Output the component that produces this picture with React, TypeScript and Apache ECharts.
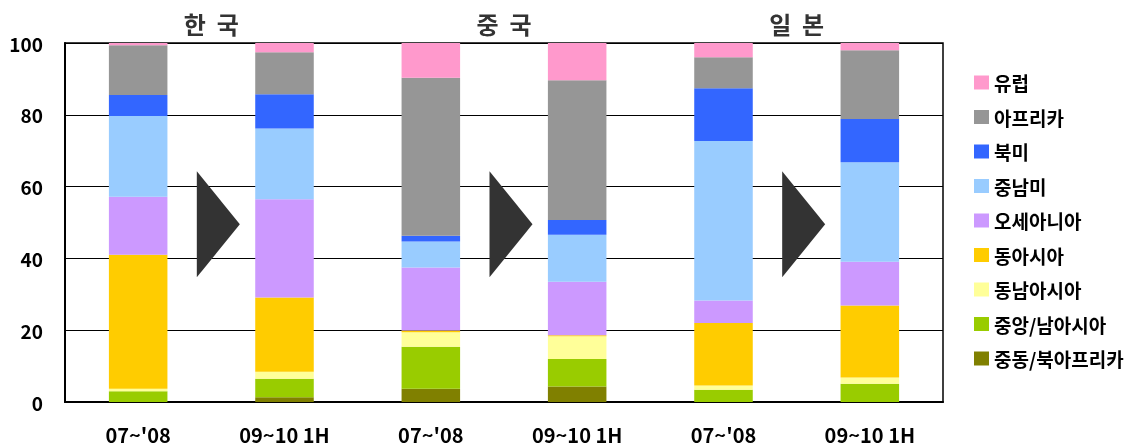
import React, { useEffect, useRef } from "react";
import * as echarts from "echarts";

const categories = ["07~'08", "09~10 1H", "07~'08", "09~10 1H", "07~'08", "09~10 1H"];
const groups = ["한 국", "중 국", "일 본"];
const yTicks = [0, 20, 40, 60, 80, 100];

const seriesNames = [
  "중동/북아프리카",
  "중앙/남아시아",
  "동남아시아",
  "동아시아",
  "오세아니아",
  "중남미",
  "북미",
  "아프리카",
  "유럽",
];
const seriesColors = [
  "#808000",
  "#99CC00",
  "#FFFF99",
  "#FFCC00",
  "#CC99FF",
  "#99CCFF",
  "#3366FF",
  "#969696",
  "#FF99CC",
];

const middleEastNorthAfrica = [0, 1.3, 3.7, 4.3, 0, 0];
const centralSouthAsia = [3.0, 5.2, 11.7, 7.7, 3.4, 5.1];
const southeastAsia = [0.7, 1.9, 4.0, 6.3, 1.2, 1.7];
const eastAsia = [37.3, 20.7, 0.5, 0.3, 17.4, 20.1];
const oceania = [16.2, 27.4, 17.6, 14.9, 6.3, 12.2];
const latinAmerica = [22.5, 19.7, 7.2, 13.1, 44.4, 27.7];
const northAmerica = [5.8, 9.5, 1.6, 4.1, 14.7, 12.0];
const africa = [13.9, 11.7, 44.0, 38.9, 8.6, 19.2];
const europe = [0.6, 2.6, 9.7, 10.4, 4.0, 2.0];

const seriesValues = [
  middleEastNorthAfrica,
  centralSouthAsia,
  southeastAsia,
  eastAsia,
  oceania,
  latinAmerica,
  northAmerica,
  africa,
  europe,
];

const arrowLevel = 49.5;

export default function App() {
  const ref = useRef<HTMLDivElement>(null);
  useEffect(() => {
    if (!ref.current) return;
    const chart = echarts.init(ref.current, undefined, { renderer: "svg" });
    const font = "'Noto Sans CJK KR', 'Noto Sans', sans-serif";
    const barSeries = seriesNames.map((name, i) => ({
      name,
      type: "bar",
      stack: "total",
      barWidth: "40%",
      xAxisIndex: 0,
      yAxisIndex: 0,
      itemStyle: { color: seriesColors[i] },
      data: seriesValues[i],
    }));
    chart.setOption({
      animation: false,
      textStyle: { fontFamily: font },
      grid: {
        left: 65,
        right: 200,
        top: 43,
        bottom: 46,
        show: true,
        borderColor: "#000",
        borderWidth: 1.5,
        backgroundColor: "transparent",
      },
      legend: {
        orient: "vertical",
        left: 969,
        top: 68,
        itemWidth: 15,
        itemHeight: 14,
        itemGap: 15.5,
        icon: "rect",
        data: [...seriesNames].reverse(),
        textStyle: { fontSize: 19, fontWeight: "bold", color: "#000", fontFamily: font },
      },
      xAxis: [
        {
          type: "category",
          data: categories,
          position: "bottom",
          axisLine: { lineStyle: { color: "#000", width: 2 } },
          axisTick: { inside: true, length: 5, lineStyle: { color: "#000" } },
          axisLabel: {
            fontSize: 20,
            fontWeight: "bold",
            color: "#000",
            margin: 22,
            fontFamily: font,
          },
          splitLine: { show: false },
        },
        {
          type: "category",
          data: groups,
          position: "top",
          axisLine: { show: false },
          axisTick: { show: false },
          axisLabel: {
            fontSize: 24,
            fontWeight: "bold",
            color: "#333",
            margin: 8,
            fontFamily: font,
            formatter: (v: string) => v.replace(" ", "  "),
          },
          splitLine: { show: false },
        },
      ],
      yAxis: [
        {
          type: "value",
          min: yTicks[0],
          max: yTicks[yTicks.length - 1],
          interval: 20,
          axisLine: { show: true, lineStyle: { color: "#000", width: 2 } },
          axisTick: { show: false },
          axisLabel: {
            fontSize: 19,
            fontWeight: "bold",
            color: "#000",
            margin: 22,
            fontFamily: font,
          },
          splitLine: { show: true, lineStyle: { color: "#000", width: 1 } },
        },
      ],
      series: [
        ...barSeries,
        {
          name: "arrow",
          type: "scatter",
          xAxisIndex: 1,
          yAxisIndex: 0,
          symbol: "path://M0,0L43,53L0,106Z",
          symbolSize: [43, 106],
          symbolOffset: [7, 0],
          itemStyle: { color: "#333333", opacity: 1 },
          silent: true,
          data: groups.map((g) => [g, arrowLevel]),
          z: 5,
        },
      ],
    });
    return () => chart.dispose();
  }, []);
  return (
    <div
      ref={ref}
      style={{ position: "fixed", left: 0, top: 0, width: 1143, height: 448 }}
    />
  );
}
